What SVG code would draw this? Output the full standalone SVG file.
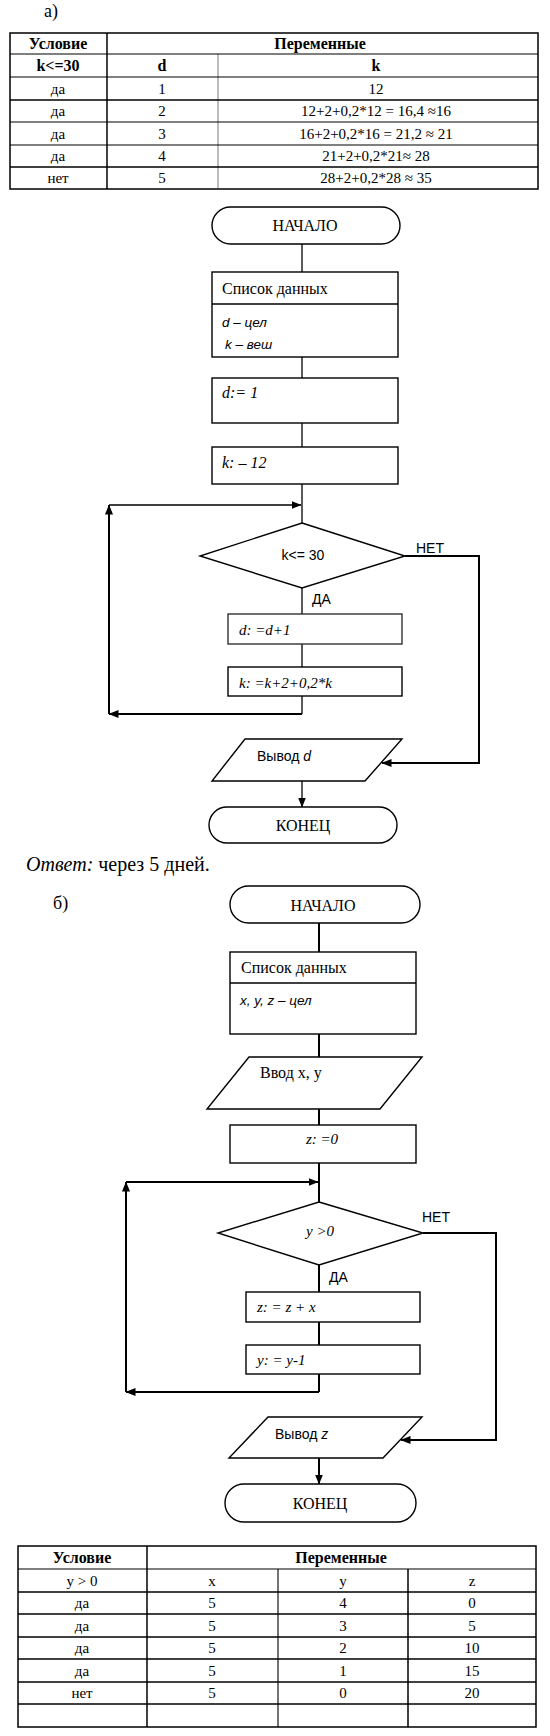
<svg xmlns="http://www.w3.org/2000/svg" width="550" height="1736" viewBox="0 0 550 1736">
<defs>
<style>
.bg{fill:#fff}
.sh{fill:#fff;stroke:#000;stroke-width:1.4}
.shg{fill:#fff;stroke:#222;stroke-width:1.3}
.tb{fill:none;stroke:#000;stroke-width:1.5}
.tl{fill:none;stroke:#000;stroke-width:1.1}
.tg{fill:none;stroke:#555;stroke-width:0.8}
.cn{fill:none;stroke:#000;stroke-width:1.3}
.ck{fill:none;stroke:#000;stroke-width:2}
.sf{font-family:"Liberation Serif","Times New Roman",serif;fill:#000}
.ss{font-family:"Liberation Sans",Arial,sans-serif;fill:#000}
.b{font-weight:bold}
.i{font-style:italic}
.c{text-anchor:middle}
</style>
<marker id="ah" markerWidth="10" markerHeight="8" refX="9.5" refY="4" orient="auto" markerUnits="userSpaceOnUse"><path d="M0,0 L10,4 L0,8 z" fill="#000"/></marker>
</defs>
<rect class="bg" x="0" y="0" width="550" height="1736"/>

<!-- Part a label -->
<text class="sf" x="44" y="17" font-size="18">а)</text>

<!-- Table 1 -->
<g id="table1">
<rect class="tb" x="10" y="33" width="528" height="156"/>
<line class="tb" x1="107" y1="33" x2="107" y2="189"/>
<line class="tg" x1="218" y1="54" x2="218" y2="189"/>
<line class="tl" x1="10" y1="54" x2="538" y2="54"/>
<line class="tl" x1="10" y1="77" x2="538" y2="77"/>
<line class="tb" x1="10" y1="100" x2="538" y2="100"/>
<line class="tl" x1="10" y1="122" x2="538" y2="122"/>
<line class="tl" x1="10" y1="145" x2="538" y2="145"/>
<line class="tb" x1="10" y1="167" x2="538" y2="167"/>
<g class="sf c" font-size="15">
<text class="b" x="58" y="49" font-size="16">Условие</text>
<text class="b" x="320" y="49" font-size="16">Переменные</text>
<text class="b" x="58" y="71" font-size="16">k&lt;=30</text>
<text class="b" x="162" y="71" font-size="16">d</text>
<text class="b" x="376" y="71" font-size="16">k</text>
<text x="58" y="94">да</text><text x="162" y="94">1</text><text x="376" y="94">12</text>
<text x="58" y="116">да</text><text x="162" y="116">2</text><text x="376" y="116">12+2+0,2*12 = 16,4 ≈16</text>
<text x="58" y="139">да</text><text x="162" y="139">3</text><text x="376" y="139">16+2+0,2*16 = 21,2 ≈ 21</text>
<text x="58" y="161">да</text><text x="162" y="161">4</text><text x="376" y="161">21+2+0,2*21≈ 28</text>
<text x="58" y="183">нет</text><text x="162" y="183">5</text><text x="376" y="183">28+2+0,2*28 ≈ 35</text>
</g>
</g>

<!-- Flowchart a connectors -->
<g id="connectors-a">
<line class="cn" x1="302" y1="244" x2="302" y2="272"/>
<line class="cn" x1="302" y1="357" x2="302" y2="378"/>
<line class="cn" x1="302" y1="423" x2="302" y2="447"/>
<line class="cn" x1="302" y1="484" x2="302" y2="523"/>
<line class="cn" x1="302" y1="588" x2="302" y2="614"/>
<line class="cn" x1="302" y1="644" x2="302" y2="667"/>
<line class="cn" x1="302" y1="696" x2="302" y2="714"/>
<line class="ck" x1="302" y1="714" x2="109" y2="714" marker-end="url(#ah)"/>
<line class="ck" x1="109" y1="714" x2="109" y2="505" marker-end="url(#ah)"/>
<line class="cn" x1="109" y1="505" x2="301" y2="505" marker-end="url(#ah)"/>
<polyline class="ck" points="405,556 479,556 479,763 382,763" marker-end="url(#ah)"/>
<line class="cn" x1="302" y1="781" x2="302" y2="807" marker-end="url(#ah)"/>
<text class="ss" x="416" y="553" font-size="14">НЕТ</text>
<text class="ss" x="312" y="604" font-size="14">ДА</text>
</g>

<!-- Flowchart a nodes -->
<g id="a-start">
<rect class="sh" x="212" y="207" width="188" height="37" rx="18.5"/>
<text class="sf c" x="305" y="231" font-size="16">НАЧАЛО</text>
</g>
<g id="a-data">
<rect class="sh" x="212" y="272" width="186" height="85"/>
<line class="sh" x1="212" y1="304" x2="398" y2="304"/>
<text class="sf" x="222" y="294" font-size="16">Список данных</text>
<text class="ss i" x="222" y="327" font-size="13.5">d  – цел</text>
<text class="ss i" x="225" y="349" font-size="13.5">k – веш</text>
</g>
<g id="a-d1">
<rect class="sh" x="212" y="378" width="186" height="45"/>
<text class="sf i" x="222" y="398" font-size="16">d:= 1</text>
</g>
<g id="a-k12">
<rect class="sh" x="212" y="447" width="186" height="37"/>
<text class="sf i" x="222" y="468" font-size="16">k: – 12</text>
</g>
<g id="a-cond">
<polygon class="sh" points="302,523 405,556 302,588 200,556"/>
<text class="ss c" x="303" y="560" font-size="14">k&lt;= 30</text>
</g>
<g id="a-dinc">
<rect class="shg" x="228" y="614" width="174" height="30"/>
<text class="sf i" x="239" y="635" font-size="15">d: =d+1</text>
</g>
<g id="a-kcalc">
<rect class="sh" x="228" y="667" width="174" height="29"/>
<text class="sf i" x="239" y="688" font-size="15">k: =k+2+0,2*k</text>
</g>
<g id="a-out">
<polygon class="sh" points="245,739 402,739 365,781 212,781"/>
<text class="ss" x="257" y="761" font-size="14">Вывод <tspan class="i">d</tspan></text>
</g>
<g id="a-end">
<rect class="sh" x="209" y="807" width="188" height="36" rx="18"/>
<text class="sf c" x="303" y="831" font-size="16">КОНЕЦ</text>
</g>

<!-- Answer -->
<text class="sf" x="26" y="871" font-size="20"><tspan class="i">Ответ:</tspan> через 5 дней.</text>
<text class="sf" x="53" y="909" font-size="18">б)</text>

<!-- Flowchart b connectors -->
<g id="connectors-b">
<line class="ck" x1="319" y1="923" x2="319" y2="952"/>
<line class="ck" x1="319" y1="1034" x2="319" y2="1057"/>
<line class="ck" x1="319" y1="1109" x2="319" y2="1125"/>
<line class="ck" x1="319" y1="1163" x2="319" y2="1202"/>
<line class="ck" x1="319" y1="1265" x2="319" y2="1292"/>
<line class="ck" x1="319" y1="1322" x2="319" y2="1345"/>
<line class="ck" x1="319" y1="1374" x2="319" y2="1392"/>
<line class="ck" x1="319" y1="1392" x2="126" y2="1392" marker-end="url(#ah)"/>
<line class="ck" x1="126" y1="1392" x2="126" y2="1182" marker-end="url(#ah)"/>
<line class="ck" x1="126" y1="1182" x2="318" y2="1182" marker-end="url(#ah)"/>
<polyline class="ck" points="423,1233 496,1233 496,1440 401,1440" marker-end="url(#ah)"/>
<line class="ck" x1="319" y1="1458" x2="319" y2="1484" marker-end="url(#ah)"/>
<text class="ss" x="422" y="1222" font-size="14">НЕТ</text>
<text class="ss" x="329" y="1282" font-size="14">ДА</text>
</g>

<!-- Flowchart b nodes -->
<g id="b-start">
<rect class="sh" x="230" y="886" width="190" height="37" rx="18.5"/>
<text class="sf c" x="323" y="911" font-size="16">НАЧАЛО</text>
</g>
<g id="b-data">
<rect class="sh" x="230" y="952" width="186" height="82"/>
<line class="sh" x1="230" y1="983" x2="416" y2="983"/>
<text class="sf" x="241" y="973" font-size="16">Список данных</text>
<text class="ss i" x="240" y="1005" font-size="13.5">x, y, z – цел</text>
</g>
<g id="b-in">
<polygon class="sh" points="249,1057 422,1057 380,1109 207,1109"/>
<text class="sf" x="260" y="1078" font-size="16">Ввод x, y</text>
</g>
<g id="b-z0">
<rect class="sh" x="230" y="1125" width="186" height="38"/>
<text class="sf i c" x="322" y="1144" font-size="15">z: =0</text>
</g>
<g id="b-cond">
<polygon class="sh" points="319,1202 423,1233 319,1265 218,1233"/>
<text class="sf i c" x="320" y="1236" font-size="15">y &gt;0</text>
</g>
<g id="b-zinc">
<rect class="sh" x="246" y="1292" width="174" height="30"/>
<text class="sf i" x="257" y="1312" font-size="15">z: = z + x</text>
</g>
<g id="b-ydec">
<rect class="sh" x="246" y="1345" width="174" height="29"/>
<text class="sf i" x="257" y="1365" font-size="15">y: = y-1</text>
</g>
<g id="b-out">
<polygon class="sh" points="268,1417 422,1417 383,1458 229,1458"/>
<text class="ss" x="275" y="1439" font-size="14">Вывод <tspan class="i">z</tspan></text>
</g>
<g id="b-end">
<rect class="sh" x="225" y="1484" width="191" height="38" rx="19"/>
<text class="sf c" x="320" y="1509" font-size="16">КОНЕЦ</text>
</g>

<!-- Table 2 -->
<g id="table2">
<rect class="tb" x="18" y="1546" width="518" height="181"/>
<line class="tb" x1="147" y1="1546" x2="147" y2="1727"/>
<line class="tl" x1="278" y1="1569" x2="278" y2="1727"/>
<line class="tb" x1="408" y1="1569" x2="408" y2="1727"/>
<line class="tl" x1="18" y1="1569" x2="536" y2="1569"/>
<line class="tb" x1="18" y1="1592" x2="536" y2="1592"/>
<line class="tb" x1="18" y1="1614" x2="536" y2="1614"/>
<line class="tb" x1="18" y1="1637" x2="536" y2="1637"/>
<line class="tb" x1="18" y1="1659" x2="536" y2="1659"/>
<line class="tb" x1="18" y1="1682" x2="536" y2="1682"/>
<line class="tb" x1="18" y1="1704" x2="536" y2="1704"/>
<g class="sf c" font-size="15">
<text class="b" x="82" y="1563" font-size="16">Условие</text>
<text class="b" x="341" y="1563" font-size="16">Переменные</text>
<text x="82" y="1586">y &gt; 0</text><text x="212" y="1586">x</text><text x="343" y="1586">y</text><text x="472" y="1586">z</text>
<text x="82" y="1608">да</text><text x="212" y="1608">5</text><text x="343" y="1608">4</text><text x="472" y="1608">0</text>
<text x="82" y="1631">да</text><text x="212" y="1631">5</text><text x="343" y="1631">3</text><text x="472" y="1631">5</text>
<text x="82" y="1653">да</text><text x="212" y="1653">5</text><text x="343" y="1653">2</text><text x="472" y="1653">10</text>
<text x="82" y="1676">да</text><text x="212" y="1676">5</text><text x="343" y="1676">1</text><text x="472" y="1676">15</text>
<text x="82" y="1698">нет</text><text x="212" y="1698">5</text><text x="343" y="1698">0</text><text x="472" y="1698">20</text>
</g>
</g>
</svg>
